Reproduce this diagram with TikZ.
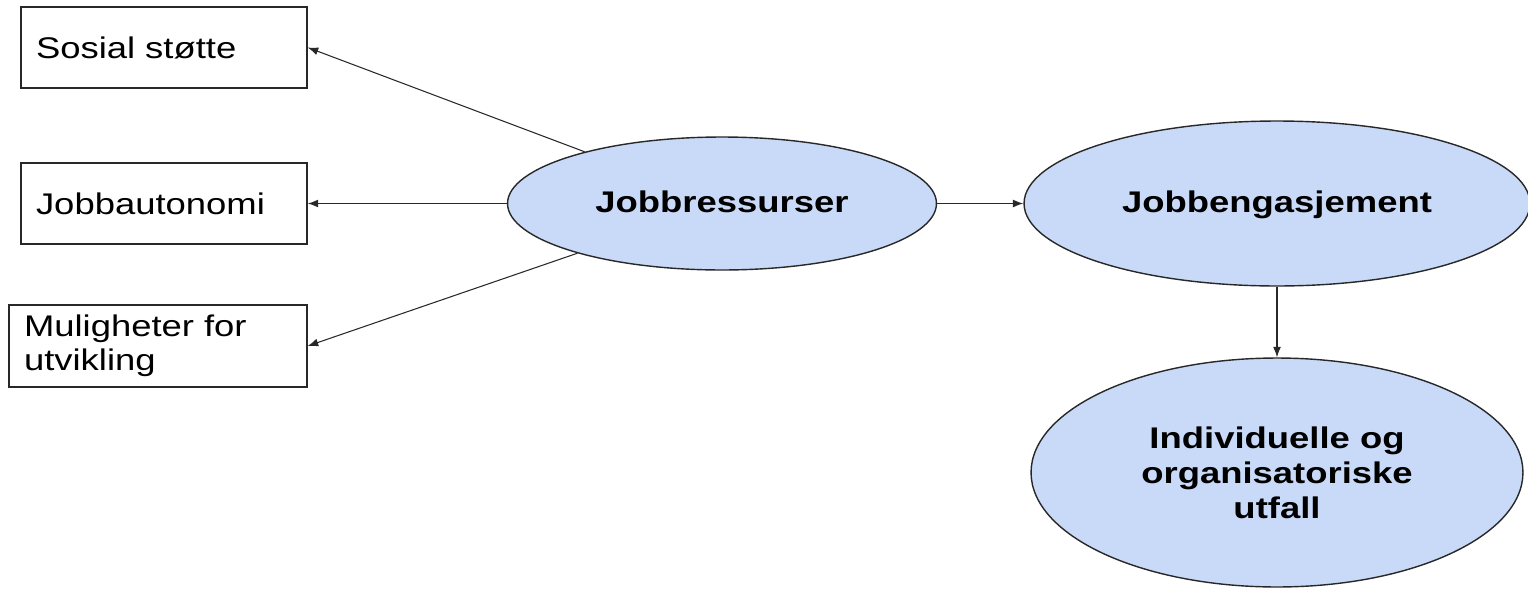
\documentclass[tikz,border=0pt]{standalone}
\usepackage{fontspec}
\setmainfont{Liberation Sans}[FakeStretch=1.22]
\usetikzlibrary{shapes.geometric,arrows.meta,positioning}
\definecolor{bleuclair}{RGB}{201,218,248}
\definecolor{trait}{RGB}{40,40,40}

\tikzset{
  boite/.style={draw=trait, line width=0.8pt, align=left, inner xsep=0.3cm,
    inner ysep=0pt, font=\fontsize{17}{19.5}\selectfont},
  bulle/.style={ellipse, draw=trait, line width=0.8pt, fill=bleuclair,
    inner sep=0pt, align=center, font=\fontsize{17}{20}\selectfont\bfseries},
  fleche/.style={draw=trait, line width=0.6pt, -{Latex[length=6pt,width=4.5pt]}}
}

\begin{document}
\begin{tikzpicture}[x=0.02cm,y=-0.02cm]
\useasboundingbox (0,0) rectangle (1528,589);
% les ressources
\node[boite, text width=5.12cm, minimum height=1.62cm] (sos) at (164,47.5) {Sosial støtte};
\node[boite, text width=5.12cm, minimum height=1.62cm] (aut) at (164,203.5) {Jobbautonomi};
\node[boite, text width=5.36cm, minimum height=1.64cm] (mul) at (158,346) {Muligheter for\\utvikling};
% les ellipses
\node[bulle, text depth=0.22em, minimum width=8.58cm, minimum height=2.66cm] (jr) at (722,203.5) {Jobbressurser};
\node[bulle, text depth=0.22em, minimum width=10.12cm, minimum height=3.3cm] (je) at (1277,203.5) {Jobbengasjement};
\node[bulle, minimum width=9.84cm, minimum height=4.58cm] (ut) at (1277,472.5) {Individuelle og\\organisatoriske\\utfall};
% les fleches
\draw[fleche] (jr) -- (sos.east);
\draw[fleche] (jr) -- (aut.east);
\draw[fleche] (jr) -- (mul.east);
\draw[fleche] (jr) -- (je);
\draw[fleche] (je) -- (ut);
\end{tikzpicture}
\end{document}
